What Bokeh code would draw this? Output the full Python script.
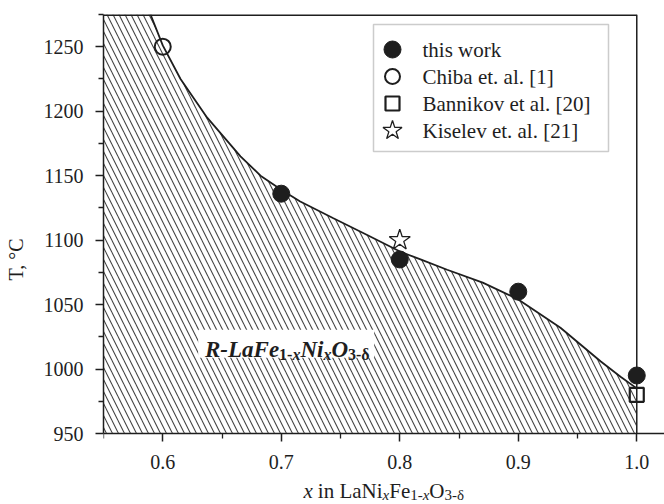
from bokeh.plotting import figure
from bokeh.models import (Range1d, FixedTicker, PrintfTickFormatter, Label,
                          BoxAnnotation)
from bokeh.embed import file_html
from bokeh.resources import INLINE

# ---------------- data ----------------
WORK_X = [0.7, 0.8, 0.9, 1.0]
WORK_T = [1136, 1085, 1060, 995]
CHIBA_X = [0.6]
CHIBA_T = [1250]
BANN_X = [1.0]
BANN_T = [980]
KIS_X = [0.8]
KIS_T = [1100]

# phase boundary curve
CURVE_X = [0.5897, 0.600, 0.615, 0.6375, 0.6656, 0.6825, 0.700, 0.716, 0.744,
           0.7725, 0.8006, 0.8175, 0.840, 0.870, 0.900, 0.9356, 0.9525, 0.9694,
           0.9863, 1.000]
CURVE_T = [1275, 1251, 1225, 1195, 1165, 1150, 1139, 1130, 1117,
           1104, 1091, 1085, 1077, 1067, 1054, 1032, 1019, 1006,
           994, 985]

X_TICKS = [0.6, 0.7, 0.8, 0.9, 1.0]
X_MINOR = [0.55, 0.65, 0.75, 0.85, 0.95]
Y_TICKS = [950, 1000, 1050, 1100, 1150, 1200, 1250]
Y_MINOR = [975, 1025, 1075, 1125, 1175, 1225, 1275]
LEGEND_LABELS = ["this work", "Chiba et. al. [1]", "Bannikov et al. [20]",
                 "Kiselev et. al. [21]"]

X_MIN, X_EDGE, X_AXIS_END = 0.55, 1.0, 1.0234
Y_MIN, Y_MAX = 950, 1275

# ---------------- layout ----------------
W, H = 664, 504
B_LEFT, B_TOP = 103, 14
AXIS_Y_PX = 433          # screen row of the x axis (T = 950)
FONT = "Liberation Serif"
INK = "#1e1e1e"

PXX = (W - B_LEFT) / (X_AXIS_END - X_MIN)
PXY = (AXIS_Y_PX - B_TOP) / (Y_MAX - Y_MIN)
Y_LOW = Y_MIN - (H - AXIS_Y_PX) / PXY   # frame runs to the bottom of the canvas

p = figure(width=W, height=H, x_range=Range1d(X_MIN, X_AXIS_END),
           y_range=Range1d(Y_LOW, Y_MAX), output_backend="svg",
           toolbar_location=None, min_border_left=B_LEFT,
           min_border_right=0, min_border_top=B_TOP, min_border_bottom=0)
p.outline_line_color = None
p.xgrid.grid_line_color = None
p.ygrid.grid_line_color = None
p.background_fill_color = "white"
p.border_fill_color = "white"


def sx2x(px):
    return X_MIN + (px - B_LEFT) / PXX


def sy2y(py):
    return Y_MIN + (AXIS_Y_PX - py) / PXY


# axes
p.xaxis.fixed_location = Y_MIN
p.yaxis.bounds = (Y_MIN, Y_MAX)
p.xaxis.ticker = FixedTicker(ticks=X_TICKS, minor_ticks=X_MINOR)
p.yaxis.ticker = FixedTicker(ticks=Y_TICKS, minor_ticks=Y_MINOR)
p.xaxis.formatter = PrintfTickFormatter(format="%.1f")
p.yaxis.formatter = PrintfTickFormatter(format="%d")
for ax in (p.xaxis, p.yaxis):
    ax.axis_line_color = INK
    ax.axis_line_width = 1.5
    ax.major_tick_line_color = INK
    ax.major_tick_line_width = 1.5
    ax.minor_tick_line_color = INK
    ax.minor_tick_line_width = 1.3
    ax.major_tick_in = 0
    ax.major_tick_out = 8
    ax.minor_tick_in = 0
    ax.minor_tick_out = 5
    ax.major_label_text_font = FONT
    ax.major_label_text_font_size = "20px"
    ax.major_label_text_color = INK
p.xaxis.major_label_standoff = 13
p.yaxis.major_label_standoff = 12
p.yaxis.axis_label = "T, °C"
p.yaxis.axis_label_text_font = FONT
p.yaxis.axis_label_text_font_size = "20px"
p.yaxis.axis_label_text_font_style = "normal"
p.yaxis.axis_label_text_color = INK
p.yaxis.axis_label_standoff = 14

# hatched region under the boundary
px = [X_MIN] + CURVE_X + [X_EDGE, X_MIN]
py = [Y_MAX] + CURVE_T + [Y_MIN, Y_MIN]
p.patch(px, py, fill_alpha=0, line_alpha=0, hatch_pattern="\\",
        hatch_scale=12, hatch_weight=1.1, hatch_color="#454545")

# frame pieces: top border and right edge at x = 1.0
p.segment(x0=[X_MIN], y0=[Y_MAX], x1=[X_EDGE], y1=[Y_MAX], line_color=INK,
          line_width=3)
p.segment(x0=[X_EDGE], y0=[Y_MIN], x1=[X_EDGE], y1=[Y_MAX], line_color=INK,
          line_width=1.5)

# boundary curve
p.line(CURVE_X, CURVE_T, line_color=INK, line_width=1.8)

# points
STYLE = [
    dict(marker="circle", size=17, fill_color=INK, fill_alpha=1,
         line_color=INK, line_width=1),
    dict(marker="circle", size=16, fill_color=None, fill_alpha=0,
         line_color=INK, line_width=2),
    dict(marker="square", size=14, fill_color=None, fill_alpha=0,
         line_color=INK, line_width=2.2),
    dict(marker="star", size=22, fill_color="white", fill_alpha=1,
         line_color=INK, line_width=1.3),
]
for (xs, ts), st in zip([(WORK_X, WORK_T), (CHIBA_X, CHIBA_T),
                         (BANN_X, BANN_T), (KIS_X, KIS_T)], STYLE):
    p.scatter(xs, ts, **st)

# ---------------- legend (box, markers, labels) ----------------
LEG_L, LEG_T, LEG_R, LEG_B = 373, 24, 608, 151
LEG_ROW0, LEG_ROW_H = 49, 27
LEG_MARK_X, LEG_TEXT_X = 392, 422
p.add_layout(BoxAnnotation(left=sx2x(LEG_L), right=sx2x(LEG_R),
                           top=sy2y(LEG_T), bottom=sy2y(LEG_B),
                           fill_alpha=0, line_color="#555555",
                           line_width=1.5))
LEG_SIZES = [17, 15, 14, 20]
for i, (lab, st, sz) in enumerate(zip(LEGEND_LABELS, STYLE, LEG_SIZES)):
    row_y = sy2y(LEG_ROW0 + i * LEG_ROW_H)
    s = dict(st)
    s["size"] = sz
    p.scatter([sx2x(LEG_MARK_X)], [row_y], **s)
    p.add_layout(Label(x=sx2x(LEG_TEXT_X), y=row_y, text=lab, text_font=FONT,
                       text_font_size="21px", text_color=INK,
                       text_align="left", text_baseline="middle"))

# ---------------- rich text helpers ----------------
WID = {
    "normal": {' ': 250, 'a': 444, 'e': 444, 'i': 278, 'n': 500, 'x': 500,
               'L': 611, 'N': 722, 'F': 556, 'O': 722, '1': 500, '3': 500,
               '-': 333, 'δ': 500},
    "italic": {'x': 444},
    "bold": {'1': 500, '-': 333, '3': 500, 'δ': 500},
    "bold italic": {'R': 667, '-': 333, 'L': 611, 'a': 500, 'F': 667,
                    'e': 444, 'N': 722, 'i': 278, 'O': 722, 'x': 500},
}


def text_width(s, size, style):
    tbl = WID.get(style, {})
    return sum(tbl.get(c, WID["normal"].get(c, 500)) for c in s) * size / 1000.0


def rich(x, y, pieces, base_dy):
    total = sum(text_width(t, s, st) + g for t, s, st, dy, g in pieces)
    cur = -total / 2
    for t, s, st, dy, g in pieces:
        p.add_layout(Label(x=x, y=y, x_offset=cur, y_offset=base_dy + dy,
                           text=t, text_font=FONT, text_font_size=f"{s}px",
                           text_font_style=st, text_color=INK,
                           text_align="left", text_baseline="alphabetic"))
        cur += text_width(t, s, st) + g


# phase label with white background
LBL_X, LBL_Y = 0.705, 1015
p.add_layout(BoxAnnotation(left=LBL_X - 89 / PXX, right=LBL_X + 87 / PXX,
                           bottom=LBL_Y - 8 / PXY, top=LBL_Y + 20 / PXY,
                           fill_color="white", fill_alpha=1, line_alpha=0))
rich(LBL_X, LBL_Y, [
    ("R-LaFe", 23, "bold italic", 0, 0),
    ("1-", 16, "bold", -5, 0),
    ("x", 16, "bold italic", -5, 0),
    ("Ni", 23, "bold italic", 0, 0),
    ("x", 16, "bold italic", -5, 0),
    ("O", 23, "bold italic", 0, 0),
    ("3-δ", 16, "bold", -5, 0),
], 0)

# x-axis title
rich((X_MIN + X_AXIS_END) / 2, Y_MIN, [
    ("x", 21, "italic", 0, 5),
    ("in LaNi", 21, "normal", 0, 0),
    ("x", 15, "italic", -4, 0),
    ("Fe", 21, "normal", 0, 0),
    ("1-", 15, "normal", -4, 0),
    ("x", 15, "italic", -4, 0),
    ("O", 21, "normal", 0, 0),
    ("3-δ", 15, "normal", -4, 0),
], -57)

open("out.html", "w").write(file_html(p, INLINE))
